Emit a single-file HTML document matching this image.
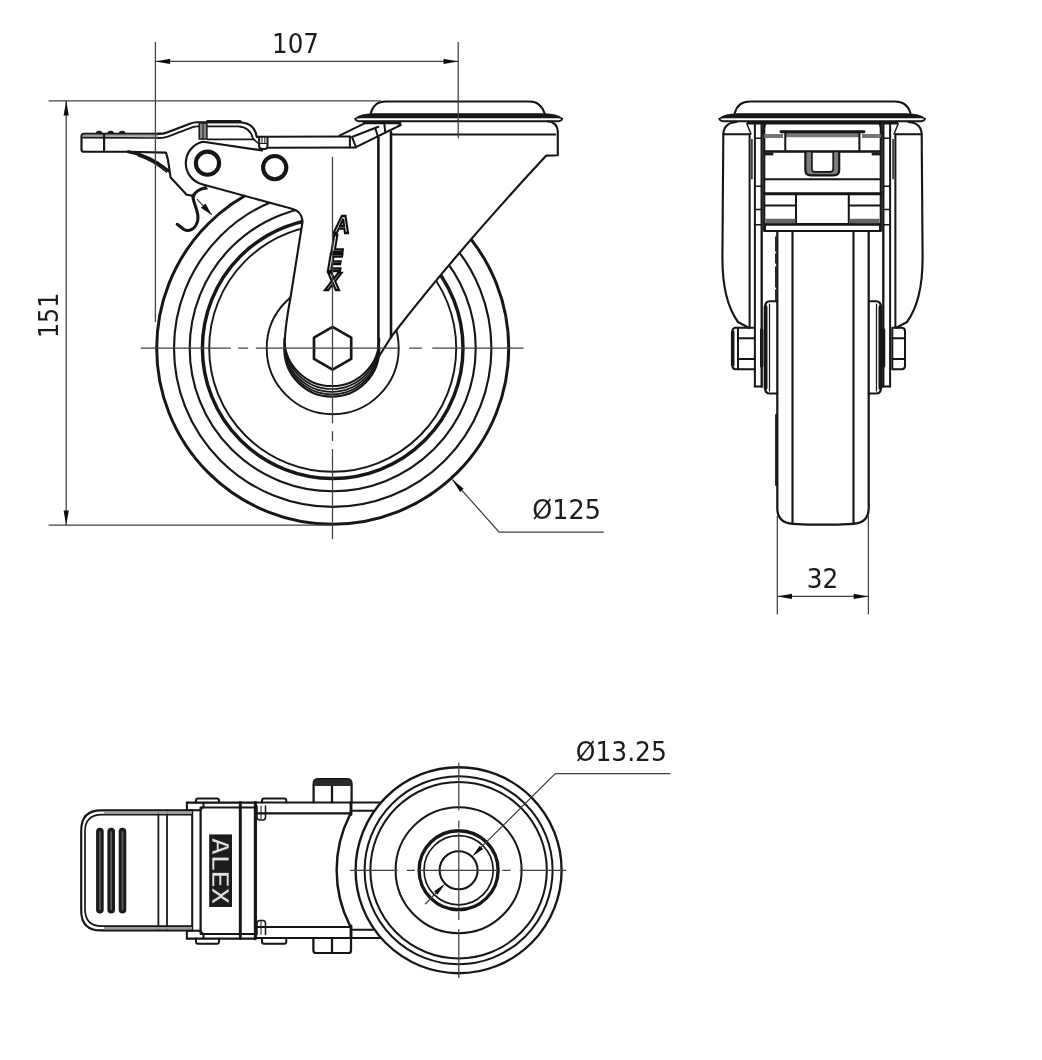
<!DOCTYPE html>
<html lang="en">
<head>
<meta charset="utf-8">
<title>Swivel castor with brake - dimensional drawing</title>
<style>
  html, body { margin: 0; padding: 0; background: #ffffff; }
  body { width: 1042px; height: 1060px; overflow: hidden; }
  svg { display: block; }
  .k  { stroke: #161616; fill: none; stroke-linecap: round; stroke-linejoin: round; }
  .w  { fill: #ffffff; stroke: none; }
  .d  { stroke: #404040; stroke-width: 1.25; fill: none; }
  .ah { fill: #111111; stroke: none; }
  .t  { font-family: "DejaVu Sans Condensed", "DejaVu Sans", "Liberation Sans", sans-serif; font-size: 26px; fill: #1a1a1a; }
  .logo { font-family: "Liberation Sans", "DejaVu Sans", sans-serif; font-weight: bold; font-style: italic; }
</style>
</head>
<body>
<svg width="1042" height="1060" viewBox="0 0 1042 1060">
<defs><filter id="soft" x="0" y="0" width="1042" height="1060" filterUnits="userSpaceOnUse"><feGaussianBlur stdDeviation="0.45"/></filter></defs>
<rect x="0" y="0" width="1042" height="1060" fill="#ffffff"/>
<g filter="url(#soft)">

<!-- ==================== SIDE VIEW ==================== -->
<g id="side-view">
  <!-- wheel -->
  <g class="k">
    <circle cx="332.7" cy="348.2" r="176" stroke-width="2.95"/>
    <circle cx="332.7" cy="348.2" r="158.7" stroke-width="2.13"/>
    <circle cx="332.7" cy="348.2" r="143" stroke-width="2.13"/>
    <circle cx="332.7" cy="348.2" r="130.3" stroke-width="3.45"/>
    <circle cx="332.7" cy="348.2" r="123.5" stroke-width="1.9"/>
    <circle cx="332.7" cy="348.2" r="66" stroke-width="1.9"/>
  </g>

  <!-- fork body mask -->
  <path class="w" d="M202.1,184.2 L292,208.8 Q301.5,211 302.6,221.3 L290.3,298.8 Q284.5,330 284.5,348 A47.4,48.5 0 0 0 379.2,354.5 L391.8,336 Q456.6,251.9 546.3,155.6 L558.2,155.2 L558.2,121 L356,121 L338,136 L256.8,136.9 L200.7,140.7 L186,163 Z"/>

  <!-- fork strokes -->
  <g class="k" stroke-width="2.13">
    <path d="M262,150.4 L203,141.8 A21.8,21.8 0 0 0 202.1,184.2 L292,208.8 Q301.5,211 302.6,221.3 L290.3,298.8 Q284.5,330 284.5,348"/>
    <path d="M284.45,349.3 A47.4,47.4 0 0 0 379.25,349.3" stroke-width="2.2"/>
    <path d="M284.45,346.9 A47.4,47.4 0 0 0 379.25,346.9" stroke-width="1.7"/>
    <path d="M284.45,344.4 A47.4,47.4 0 0 0 379.25,344.4" stroke-width="1.7"/>
    <path d="M284.45,341.6 A47.4,47.4 0 0 0 379.25,341.6" stroke-width="1.7"/>
    <path d="M284.45,338.7 A47.4,47.4 0 0 0 379.25,338.7" stroke-width="2"/>
    <path d="M378.4,138 L378.4,355" stroke-width="2.58"/>
    <path d="M391,132.4 L391,337.2" stroke-width="2.58"/>
    <path d="M378.6,357 L391.8,336 Q456.6,251.9 546.3,155.6 L557.8,155.2 L557.8,131.5 Q557.2,122 547.5,121.2"/>
    <path d="M391.4,134.5 L555.2,134.5"/>
  </g>

  <!-- top plate -->
  <g class="k">
    <path d="M370.7,113.8 Q373.5,101.5 386,101.5 L530,101.5 Q540.5,101.5 544.6,113.4" stroke-width="2.13"/>
    <path d="M355.2,118.6 C358.2,115.3 365.2,113.8 374.2,113.6 L543.3,113.6 C552.3,113.8 559.3,115.3 562.3,118.6 C560.3,118 557.3,117.9 555.3,117.9 L362.2,117.9 C360.2,117.9 357.2,118 355.2,118.6 Z" fill="#161616" stroke="#161616" stroke-width="0.6"/>
    <path d="M355.2,118.6 Q355.7,121.2 360.2,121.2 L557.3,121.2 Q561.8,121.2 562.3,118.6" stroke-width="1.9"/>
  </g>

  <!-- lever arm (brake) -->
  <g class="k" stroke-width="2.02">
    <!-- angled end under top plate -->
    <path d="M339.5,135.6 L364.5,123.3"/>
    <path d="M352.5,136.7 L378.4,126.8"/>
    <path d="M355.9,147.2 L400.8,125 L397.5,122.6"/>
    <path d="M364,122.9 L400,122.9" stroke-width="2.6"/>
    <path d="M349.9,136.5 L349.9,147.6 M352,137.1 L355.9,146.8"/>
    <path d="M375.3,128.3 L378.4,138"/>
    <path d="M384.4,124.5 L385.3,132.8"/>
    <!-- horizontal part -->
    <path d="M256.8,136.7 L349.9,136.5"/>
    <path d="M268.3,147.7 L355.9,147.5"/>
    <!-- small box -->
    <path d="M259.1,136.9 L259.1,146 Q259.1,149.1 262.5,149.1 L264.5,149.1 Q267.5,149.1 267.5,146 L267.5,136.9"/>
    <path d="M259.1,143.5 L267.5,143.5" stroke-width="1.2"/>
    <path d="M262,137 L262,143.5 M264.8,137 L264.8,143.5" stroke-width="1"/>
    <!-- raised hump -->
    <path d="M158,133.9 Q163.5,133.8 167,132.4 L190.5,123.5 Q193.5,122.3 197,122.2 L240,122.2 Q254.5,123 256.8,136.9" stroke-width="2.13"/>
    <path d="M207.6,121.6 L240,121.6" stroke-width="3.36"/>
    <path d="M158,138.1 Q164.5,138 168.5,136.4 L192,127.4 Q195,126.3 198,126.3 L238,126.3 Q250.5,127 252.9,138.6" stroke-width="1.68"/>
    <path d="M207.6,139.4 L254,139.4" stroke-width="1.79"/>
    <path d="M252.9,138.6 L259,144" stroke-width="1.57"/>
  </g>
  <rect x="199.2" y="123" width="7.7" height="16" fill="#8a8a8a" stroke="#222" stroke-width="1.57"/>
  <path class="k" d="M203,123 L203,139" stroke-width="1"/>

  <!-- pivots -->
  <g class="k" stroke-width="4.14">
    <circle cx="207.5" cy="163.2" r="11.6"/>
    <circle cx="274.7" cy="167.6" r="11.6"/>
  </g>

  <!-- pedal -->
  <g class="k" stroke-width="2.13">
    <path d="M160.6,133.8 L84,133.8 Q81.5,133.8 81.5,136.3 L81.5,149.5 Q81.5,151.8 84,151.8 L128.3,151.8 L166,152.6 L168,160 L170.6,177.6 L186.7,194.8 L192.6,195.7 C196,190.5 200,188 206,187"/>
    <path d="M83,135.8 L158,135.8" stroke="#9a9a9a" stroke-width="2" stroke-linecap="butt"/>
    <path d="M83,137.6 L160.6,138" stroke-width="1.68"/>
    <path d="M104.1,134 L104.1,151.6"/>
    <path d="M128.3,151.8 Q150,155.5 168.3,170.7" stroke-width="2.91"/>
    <path d="M138,155.8 Q153,160.5 166.5,172" stroke-width="1.57"/>
  </g>
  <g fill="#1a1a1a">
    <path d="M95.8,133.8 a3.4,3 0 0 1 6.8,0 Z"/>
    <path d="M107.3,133.8 a3.4,3 0 0 1 6.8,0 Z"/>
    <path d="M118.8,133.8 a3.4,3 0 0 1 6.8,0 Z"/>
  </g>

  <!-- spring hook + arrow -->
  <path class="k" d="M192.8,196 C193.5,205 199.8,212 197.6,221 C195.5,229.5 188.5,232 184,229.5 L177.2,224.3" stroke="#383838" stroke-width="3.1"/>
  <path class="k" d="M207,188.6 C201,189 195,192 193.4,197.5" stroke="#333" stroke-width="1.79"/>
  <path class="d" d="M197,199.1 L211.8,214.9" stroke="#111" stroke-width="1.2"/>
  <path class="ah" d="M211.8,214.9 L200.9,207.8 L205.5,203.6 Z"/>

  <!-- axle nut -->
  <path class="k" d="M332.6,326.9 L351.2,337.6 L351.2,358.9 L332.6,369.6 L314,358.9 L314,337.6 Z" stroke-width="2.7"/>

  <!-- logo on fork -->
  <g class="logo" font-size="24" fill="#ffffff" stroke="#111" stroke-width="2.35" text-anchor="middle">
    <text transform="translate(341.8,233.2) scale(0.9,1)">A</text>
    <text transform="translate(337.6,251.6) scale(0.9,1)">L</text>
    <text transform="translate(334.8,270.8) scale(0.9,1)">E</text>
    <text transform="translate(333.2,289.8) scale(0.9,1)">X</text>
  </g>

  <!-- centre lines -->
  <path class="d" d="M140.7,348.1 L523.5,348.1" stroke-dasharray="89.9 7.7 9.9 7.7 142.1 11.4 12.5 10.3 200"/>
  <path class="d" d="M332.5,156.8 L332.5,539.3" stroke-dasharray="266.5 8 9.6 8 200"/>

  <!-- dimensions -->
  <g class="d">
    <path d="M48.6,100.8 L381,100.8"/>
    <path d="M48.6,525.2 L333,525.2"/>
    <path d="M66.2,101 L66.2,525"/>
    <path d="M155.4,42 L155.4,322"/>
    <path d="M458.2,42 L458.2,138.3"/>
    <path d="M155.4,61.4 L458.2,61.4"/>
    <path d="M452.1,479.3 L499.1,532.1 L603.7,532.1"/>
  </g>
  <g class="ah">
    <path d="M66.2,100.8 L63.6,115.5 L68.8,115.5 Z"/>
    <path d="M66.2,525.2 L63.6,510.5 L68.8,510.5 Z"/>
    <path d="M155.4,61.4 L170.1,58.8 L170.1,64 Z"/>
    <path d="M458.2,61.4 L443.5,58.8 L443.5,64 Z"/>
    <path d="M452.1,479.3 L463.6,488.8 L460.1,491.9 Z"/>
  </g>
  <text class="t" x="295.5" y="52.8" text-anchor="middle" textLength="46.8" lengthAdjust="spacingAndGlyphs">107</text>
  <text class="t" transform="translate(57.6,315.4) rotate(-90)" text-anchor="middle" textLength="45.2" lengthAdjust="spacingAndGlyphs">151</text>
  <text class="t" x="566.6" y="519.4" text-anchor="middle" textLength="68.5" lengthAdjust="spacingAndGlyphs">Ø125</text>
</g>

<!-- ==================== FRONT VIEW ==================== -->
<g id="front-view">
  <!-- top plate -->
  <g class="k">
    <path d="M734.8,113 Q738,101.5 750,101.5 L895,101.5 Q907,101.5 910.4,113" stroke-width="2.13"/>
    <path d="M719.3,118.6 C722.3,115.3 729.3,113.8 738.3,113.6 L906.0,113.6 C915.0,113.8 922.0,115.3 925.0,118.6 C923.0,118 920.0,117.9 918.0,117.9 L726.3,117.9 C724.3,117.9 721.3,118 719.3,118.6 Z" fill="#161616" stroke="#161616" stroke-width="0.6"/>
    <path d="M719.3,118.6 Q719.8,121.2 724.3,121.2 L920.0,121.2 Q924.5,121.2 925.0,118.6" stroke-width="1.9"/>
    <path d="M748,123.2 L897,123.2" stroke-width="2.69"/>
  </g>
  <!-- fork outer -->
  <g class="k" stroke-width="2.13">
    <path d="M736.5,122 Q723.3,123 723.3,135 L722.4,258 C722.4,290 730,311 738,322 L748.6,327.8"/>
    <path d="M908.5,122 Q921.7,123 921.7,135 L922.6,258 C922.6,290 915,311 907,322 L896.4,327.8"/>
    <path d="M723.3,134.3 L749.4,134.3"/>
    <path d="M921.7,134.3 L895.6,134.3"/>
  </g>
  <!-- fork legs -->
  <g class="k" stroke-width="2.02">
    <path d="M749.6,134.5 L749.6,327.8"/>
    <path d="M751.9,139.5 L751.9,178.8" stroke-width="1.46"/>
    <path d="M754.9,122.5 L754.9,386.5"/>
    <path d="M761.7,122.5 L761.7,386.5" stroke-width="2.35"/>
    <path d="M754.9,386.5 L761.7,386.5"/>
    <path d="M746.9,124 L751,134 M765.5,124 L762,134" stroke-width="1.46"/>
    <path d="M754.9,138.3 L761.7,138.3 M754.9,186.2 L761.7,186.2 M754.9,209.5 L761.7,209.5 M754.9,224.8 L761.7,224.8" stroke-width="1.46"/>

    <path d="M895.4,134.5 L895.4,327.8"/>
    <path d="M893.1,139.5 L893.1,178.8" stroke-width="1.46"/>
    <path d="M890.1,122.5 L890.1,386.5"/>
    <path d="M883.3,122.5 L883.3,386.5" stroke-width="2.35"/>
    <path d="M890.1,386.5 L883.3,386.5"/>
    <path d="M898.1,124 L894,134 M879.5,124 L883,134" stroke-width="1.46"/>
    <path d="M890.1,138.3 L883.3,138.3 M890.1,186.2 L883.3,186.2 M890.1,209.5 L883.3,209.5 M890.1,224.8 L883.3,224.8" stroke-width="1.46"/>
  </g>
  <!-- brake box -->
  <g class="k" stroke-width="2.02">
    <path d="M764.2,124 L764.2,231 M880.8,124 L880.8,231" stroke-width="2.24"/>
    <path d="M764.2,136 L783,136 M862,136 L880.8,136" stroke="#777" stroke-width="4.03" stroke-linecap="butt"/>
    <path d="M785.3,135 L859.4,135" stroke="#777" stroke-width="4.48" stroke-linecap="butt"/>
    <path d="M781,131.8 L864,131.8" stroke-width="2.91"/>
    <path d="M785.3,131.8 L785.3,151.4 M859.4,131.8 L859.4,151.4"/>
    <path d="M764.2,151.5 L880.8,151.5" stroke-width="2.35"/>
    <path d="M764.2,179.3 L880.8,179.3"/>
    <path d="M764.2,193.8 L880.8,193.8" stroke-width="2.91"/>
    <path d="M765,224.4 L880,224.4" stroke-width="2.91"/>
    <path d="M765,230.9 L880,230.9"/>
    <path d="M765,224.4 L765,230.9 M880,224.4 L880,230.9"/>
    <!-- U shape -->
    <path d="M808.6,152.5 L808.6,169.5 Q808.6,173.6 813,173.6 L831.6,173.6 Q836.2,173.6 836.2,169.5 L836.2,152.5" stroke="#7d7d7d" stroke-width="5" stroke-linecap="butt"/>
    <path d="M805.4,151.5 L805.4,170 Q805.4,175.4 811,175.4 L833.6,175.4 Q839.2,175.4 839.2,170 L839.2,151.5" stroke-width="2.24"/>
    <path d="M811.9,151.5 L811.9,169 Q811.9,171.8 815,171.8 L830,171.8 Q833.2,171.8 833.2,169 L833.2,151.5" stroke-width="1.68"/>
    <!-- lower pockets -->
    <path d="M796,193.8 L796,224.4 M848.8,193.8 L848.8,224.4"/>
    <path d="M765,205.6 L796,205.6 M848.8,205.6 L880,205.6"/>
    <path d="M765.5,221 L795.5,221 M849.3,221 L879.5,221" stroke="#666" stroke-width="4.48" stroke-linecap="butt"/>
  </g>
  <rect x="764" y="152.4" width="9.3" height="3" fill="#1a1a1a"/>
  <rect x="871.7" y="152.4" width="9.3" height="3" fill="#1a1a1a"/>

  <!-- wheel -->
  <g class="k" stroke-width="2.13">
    <path d="M777.3,231 L777.3,508 Q777.3,523 793,523.8 Q823,525.6 853,523.8 Q868.7,523 868.7,508 L868.7,231" stroke-width="2.24"/>
    <path d="M792.5,231 L792.5,523.6 M853.5,231 L853.5,523.6"/>
    <path d="M775.8,237 L775.8,300" stroke-width="1.46" stroke-dasharray="14 3 9 4 20 3"/>
    <path d="M776,415 L776,485" stroke-width="1.79"/>
  </g>
  <!-- hubs -->
  <g class="k" stroke-width="2.13">
    <path d="M777.3,301.3 L770,301.3 Q765,301.5 765,307 L765,388 Q765,393.5 770,393.5 L777.3,393.5"/>
    <path d="M765.6,307 L765.6,388" stroke-width="3.81"/>
    <path d="M769.5,304 L769.5,391" stroke-width="1.2"/>
    <path d="M868.7,301.3 L876,301.3 Q881,301.5 881,307 L881,388 Q881,393.5 876,393.5 L868.7,393.5"/>
    <path d="M880.4,307 L880.4,388" stroke-width="3.81"/>
    <path d="M876.5,304 L876.5,391" stroke-width="1.2"/>
  </g>
  <!-- bolt head (left) and nut (right) -->
  <g class="k" stroke-width="2.02">
    <path d="M754.1,327.8 L735,327.8 Q732.3,328.5 732.3,332 L732.3,365 Q732.3,368.8 735,369.3 L754.1,369.3"/>
    <path d="M732.7,332 L732.7,365" stroke-width="3.58"/>
    <path d="M738,328 L738,369"/>
    <path d="M738,338.2 L754.5,338.2 M738,358.9 L754.5,358.9"/>
    <path d="M761.7,330 L761.7,366" stroke-width="3.36"/>

    <path d="M892.3,327.8 L902,327.8 Q905,328.3 905,331 L905,366 Q905,369 902,369.3 L892.3,369.3 Z"/>
    <path d="M892.3,338.2 L905,338.2 M892.3,358.9 L905,358.9"/>
    <path d="M883.6,330 L883.6,366" stroke-width="3.36"/>
  </g>

  <!-- dimension 32 -->
  <g class="d">
    <path d="M777.3,516 L777.3,614.4"/>
    <path d="M868.4,516 L868.4,614.4"/>
    <path d="M777.3,596.4 L868.4,596.4"/>
  </g>
  <g class="ah">
    <path d="M777.3,596.4 L792,593.8 L792,599 Z"/>
    <path d="M868.4,596.4 L853.7,593.8 L853.7,599 Z"/>
  </g>
  <text class="t" x="822.5" y="587.6" text-anchor="middle" textLength="31.5" lengthAdjust="spacingAndGlyphs">32</text>
</g>

<!-- ==================== BOTTOM VIEW ==================== -->
<g id="bottom-view">
  <!-- swivel head circles -->
  <g class="k">
    <circle cx="458.6" cy="870.2" r="103" stroke-width="2.35"/>
    <circle cx="458.6" cy="870.2" r="94" stroke-width="2.02"/>
    <circle cx="458.6" cy="870.2" r="88.2" stroke-width="2.02"/>
    <circle cx="458.6" cy="870.2" r="63" stroke-width="2.02"/>
    <circle cx="458.6" cy="870.2" r="39.5" stroke-width="3.36"/>
    <circle cx="458.6" cy="870.2" r="34.6" stroke-width="1.68"/>
    <circle cx="458.6" cy="870.2" r="19" stroke-width="2.13"/>
    <path d="M349.7,815.3 A122,122 0 0 0 349.7,925.1" stroke-width="2.46"/>
  </g>
  <!-- fork plate -->
  <g class="k" stroke-width="2.13">
    <path d="M255.4,802.5 L381,802.5"/>
    <path d="M255.4,813.4 L350,813.4"/>
    <path d="M352.8,810.7 L373.5,810.7"/>
    <path d="M351,802.5 L351,814.5" stroke-width="2.91"/>
    <path d="M255.4,938 L381,938"/>
    <path d="M255.4,927 L350,927"/>
    <path d="M352.8,929.7 L373.5,929.7"/>
    <path d="M351,938 L351,926" stroke-width="2.91"/>
  </g>
  <!-- axle bolt / nut -->
  <g class="k" stroke-width="2.24">
    <path d="M313.6,802.5 L313.6,784 Q313.6,779.2 318.5,779.2 L346.5,779.2 Q351.6,779.2 351.6,784 L351.6,802.5"/>
    <path d="M332,785.5 L332,802.5"/>
    <path d="M313.4,938 L313.4,950.5 Q313.4,953 316,953 L348.5,953 Q351,953 351,950.5 L351,938"/>
    <path d="M332,938 L332,953"/>
  </g>
  <path d="M314,786 L314,784 Q314,779.4 318.5,779.4 L346.5,779.4 Q351.2,779.4 351.2,784 L351.2,786 Z" fill="#2a2a2a"/>

  <!-- brake body block -->
  <g class="k" stroke-width="2.02">
    <path d="M186.9,802.6 L255.4,802.6 M186.9,938.6 L255.4,938.6" stroke-width="2.24"/>
    <path d="M200.7,807.4 L255.4,807.4 M200.7,934.1 L255.4,934.1"/>
    <path d="M186.9,802.6 L186.9,810.5 M186.9,930.5 L186.9,938.6"/>
    <path d="M192.2,810.5 L192.2,930.5"/>
    <path d="M200.6,808 L200.6,933" stroke-width="2.24"/>
    <path d="M240.3,802.6 L240.3,938.6" stroke-width="2.91"/>
    <path d="M255.4,802.6 L255.4,938.6" stroke-width="3.14"/>
    <!-- corner lugs -->
    <path d="M186.9,810.3 L200,810.3 L203.5,806.5 L203.5,803"/>
    <path d="M186.9,930.7 L200,930.7 L203.5,934.5 L203.5,938"/>
    <path d="M196,802.6 L196,800.5 Q196,798.6 198,798.6 L217,798.6 Q219,798.6 219,800.5 L219,802.6"/>
    <path d="M262,802.5 L262,800.5 Q262,798.6 264,798.6 L284.3,798.6 Q286.3,798.6 286.3,800.5 L286.3,802.5"/>
    <path d="M196,938.6 L196,941.8 Q196,943.7 198,943.7 L217,943.7 Q219,943.7 219,941.8 L219,938.6"/>
    <path d="M262,938 L262,941.8 Q262,943.7 264,943.7 L284.3,943.7 Q286.3,943.7 286.3,941.8 L286.3,938"/>
    <path d="M257,806 L257,817 Q257,820 260,820 L263,820 Q265.5,820 265.5,817 L265.5,806" stroke-width="1.57"/>
    <path d="M257,934.5 L257,923.5 Q257,920.5 260,920.5 L263,920.5 Q265.5,920.5 265.5,923.5 L265.5,934.5" stroke-width="1.57"/>
    <path d="M261,806 L261,819 M261,934.5 L261,921.5" stroke-width="1"/>
  </g>
  <!-- logo plate -->
  <rect x="209.2" y="834.4" width="22.8" height="72.6" fill="#1c1c1c"/>
  <text class="logo" transform="translate(212.3,870.8) rotate(90)" text-anchor="middle" font-size="23" fill="#e2e2e2" stroke="#1c1c1c" stroke-width="0.7" textLength="67" lengthAdjust="spacingAndGlyphs" style="font-style:normal">ALEX</text>

  <!-- pedal -->
  <g class="k" stroke-width="2.13">
    <path d="M192.2,810.4 L101,810.4 Q81.2,810.4 81.2,830.4 L81.2,910.4 Q81.2,930.4 101,930.4 L192.2,930.4"/>
    <path d="M192.2,814.6 L102,814.6 Q85,814.6 85,831.5 L85,909.3 Q85,926.2 102,926.2 L192.2,926.2" stroke-width="1.68"/>
    <path d="M158.4,810.4 L158.4,930.4 M167,810.4 L167,930.4" stroke-width="1.79"/>
  </g>
  <path d="M104,812.5 L192,812.5 M104,928.3 L192,928.3" stroke="#9a9a9a" stroke-width="2.46" fill="none"/>
  <g stroke="#1a1a1a" stroke-width="7.6" stroke-linecap="round" fill="none">
    <path d="M99.9,831.5 L99.9,909.7"/>
    <path d="M111.2,831.5 L111.2,909.7"/>
    <path d="M122.5,831.5 L122.5,909.7"/>
  </g>
  <g stroke="#5e5e5e" stroke-width="1.7" stroke-linecap="round" fill="none">
    <path d="M99.9,832 L99.9,909.2"/>
    <path d="M111.2,832 L111.2,909.2"/>
    <path d="M122.5,832 L122.5,909.2"/>
  </g>

  <!-- centre lines -->
  <path class="d" d="M350,870.4 L566.2,870.4" stroke-dasharray="47.6 9.2 8.1 4.6 78.3 4.6 8.1 9.2 200"/>
  <path class="d" d="M458.8,762.7 L458.8,978" stroke-dasharray="47.5 10.2 7.9 4.5 75.9 3.4 7.9 9.1 200"/>

  <!-- bore dimension -->
  <g class="d">
    <path d="M670.4,773.6 L555.3,773.6 L474.7,853.6"/>
    <path d="M442.5,885.9 L425.2,904.3"/>
  </g>
  <g class="ah">
    <path d="M472.2,856.6 L479.7,845.7 L483.1,849.1 Z"/>
    <path d="M445,883.8 L437.5,894.7 L434.1,891.3 Z"/>
  </g>
  <text class="t" x="621.3" y="761" text-anchor="middle" textLength="91" lengthAdjust="spacingAndGlyphs">Ø13.25</text>
</g>

</g>
</svg>
</body>
</html>
